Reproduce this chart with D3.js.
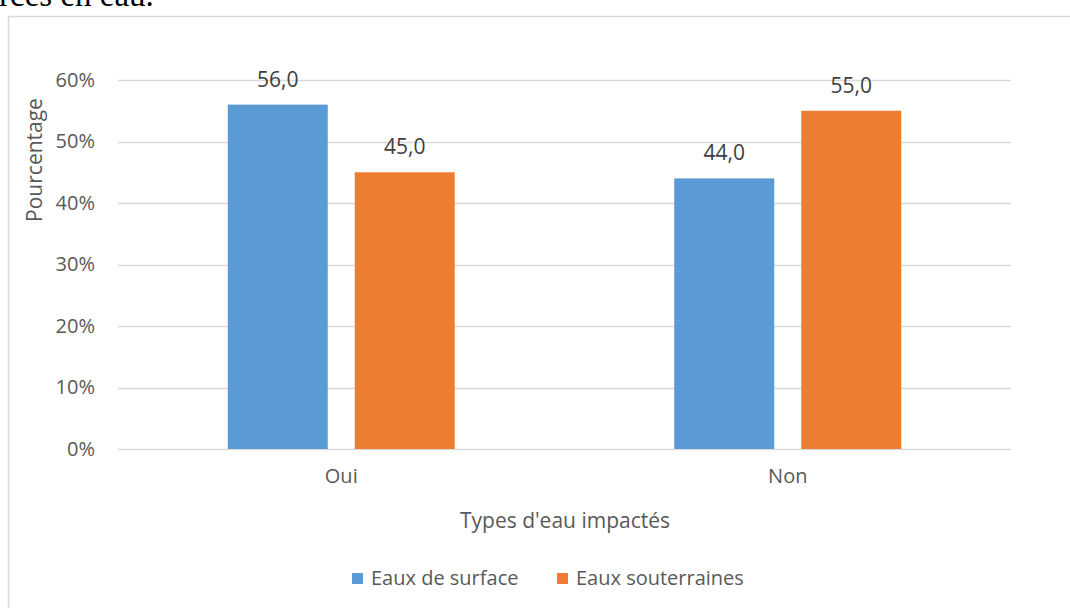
<!DOCTYPE html>
<html>
<head>
<meta charset="utf-8">
<script src="https://cdn.jsdelivr.net/npm/d3@7"></script>
<style>
  body { margin: 0; background: #fff; }
  svg { display: block; }
  text { font-family: "Open Sans", "Noto Sans", sans-serif; }
</style>
</head>
<body>
<svg id="chart" width="1070" height="608"></svg>
<script>
// data
const categories = ["Oui", "Non"];
const seriesNames = ["Eaux de surface", "Eaux souterraines"];
const surfaceValues = [56, 44];
const souterrainesValues = [45, 55];
const yTicks = [0, 10, 20, 30, 40, 50, 60];
const colors = ["#5B9BD5", "#ED7D31"];

const svg = d3.select("#chart");
const width = +svg.attr("width");
const height = +svg.attr("height");

// bit of the document text above the chart
svg.append("text")
    .attr("x", -1)
    .attr("y", 6)
    .style("font-family", "'Liberation Serif', 'DejaVu Serif', serif")
    .style("font-size", "33px")
    .attr("fill", "#000")
    .text("rces en eau.");

// chart frame (runs off right / bottom edge)
svg.append("rect")
    .attr("x", 8.5)
    .attr("y", 16.5)
    .attr("width", width + 10)
    .attr("height", height + 10)
    .attr("fill", "none")
    .attr("stroke", "#D9D9D9")
    .attr("stroke-width", 1.5);

const plot = { left: 118, right: 1011, top: 80, bottom: 449 };

const x = d3.scaleBand()
    .domain(categories)
    .range([plot.left, plot.right]);

const y = d3.scaleLinear()
    .domain([0, 60])
    .range([plot.bottom, plot.top]);

// gridlines
svg.append("g")
    .selectAll("line")
    .data(yTicks)
    .enter().append("line")
    .attr("x1", plot.left)
    .attr("x2", plot.right)
    .attr("y1", d => Math.round(y(d)) + 0.5)
    .attr("y2", d => Math.round(y(d)) + 0.5)
    .attr("stroke", "#D9D9D9")
    .attr("stroke-width", 1.5);

// y axis labels
const yAxis = d3.axisLeft(y)
    .tickValues(yTicks)
    .tickFormat(d => d + "%")
    .tickSize(0)
    .tickPadding(23);

const yg = svg.append("g")
    .attr("transform", `translate(${plot.left},0)`)
    .call(yAxis);
yg.select(".domain").remove();
yg.selectAll("text")
    .style("font-family", "'Open Sans', sans-serif")
    .style("font-size", "20px")
    .attr("fill", "#595959");

// x axis labels
const xAxis = d3.axisBottom(x).tickSize(0).tickPadding(20);
const xg = svg.append("g")
    .attr("transform", `translate(0,${plot.bottom})`)
    .call(xAxis);
xg.select(".domain").remove();
xg.selectAll("text")
    .style("font-family", "'Open Sans', sans-serif")
    .style("font-size", "20px")
    .attr("fill", "#595959");

// bars
const rows = categories.map((c, i) => ({
    category: c,
    values: [surfaceValues[i], souterrainesValues[i]]
}));

const groups = svg.append("g")
    .selectAll("g")
    .data(rows)
    .enter().append("g")
    .attr("transform", d => `translate(${x(d.category) + x.bandwidth() / 2 - 113.5},0)`);

const barW = 100;
const barX = [0, 127];

groups.selectAll("rect")
    .data(d => d.values.map((v, j) => ({ v, j })))
    .enter().append("rect")
    .attr("x", d => barX[d.j])
    .attr("y", d => y(d.v))
    .attr("width", barW)
    .attr("height", d => y(0) - y(d.v))
    .attr("fill", d => colors[d.j]);

groups.selectAll("text.label")
    .data(d => d.values.map((v, j) => ({ v, j })))
    .enter().append("text")
    .attr("class", "label")
    .attr("x", d => barX[d.j] + barW / 2)
    .attr("y", d => y(d.v) - 18)
    .attr("text-anchor", "middle")
    .style("font-size", "21px")
    .attr("fill", "#404040")
    .text(d => d3.format(".1f")(d.v).replace(".", ","));

// axis titles
svg.append("text")
    .attr("transform", "translate(42,160) rotate(-90)")
    .attr("text-anchor", "middle")
    .style("font-size", "21px")
    .attr("fill", "#595959")
    .text("Pourcentage");

svg.append("text")
    .attr("x", 565)
    .attr("y", 528)
    .attr("text-anchor", "middle")
    .style("font-size", "21px")
    .attr("fill", "#595959")
    .text("Types d'eau impactés");

// legend
const legendX = [352, 557];
const legend = svg.append("g")
    .selectAll("g")
    .data(seriesNames)
    .enter().append("g")
    .attr("transform", (d, i) => `translate(${legendX[i]},573)`);

legend.append("rect")
    .attr("width", 11)
    .attr("height", 11)
    .attr("fill", (d, i) => colors[i]);

legend.append("text")
    .attr("x", 19)
    .attr("y", 12)
    .style("font-size", "20px")
    .attr("fill", "#595959")
    .text(d => d);
</script>
</body>
</html>
